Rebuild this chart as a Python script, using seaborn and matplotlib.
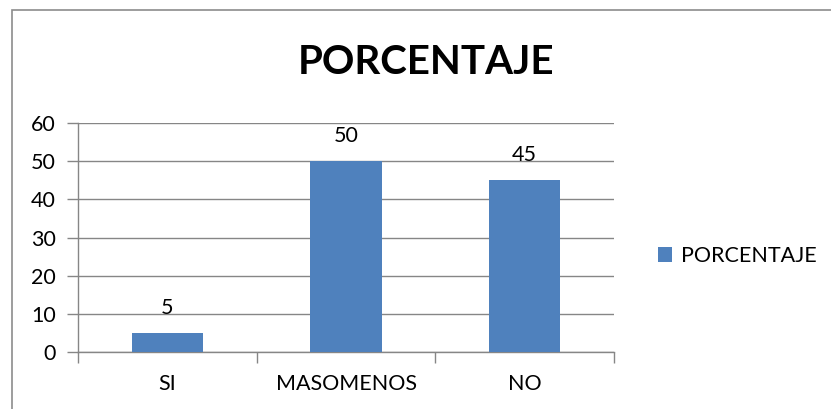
import matplotlib
matplotlib.use("Agg")
import matplotlib.pyplot as plt
import seaborn as sns
import pandas as pd
from matplotlib.patches import Rectangle

categories = ["SI", "MASOMENOS", "NO"]
values = [5, 50, 45]
series_name = "PORCENTAJE"
title = "PORCENTAJE"
yticks = [0, 10, 20, 30, 40, 50, 60]

sns.set_theme(style="white")
plt.rcParams["font.family"] = ["Lato", "DejaVu Sans"]
plt.rcParams["text.color"] = "black"
plt.rcParams["xtick.color"] = "black"
plt.rcParams["ytick.color"] = "black"

df = pd.DataFrame({"cat": categories, "val": values})

fig = plt.figure(figsize=(8.31, 4.09), dpi=100)
ax = fig.add_axes([78/831, 1-352/409, (614-78)/831, (352-123)/409])

sns.barplot(data=df, x="cat", y="val", color="#4F81BD", width=0.4,
            saturation=1, ax=ax, label=series_name, zorder=3, linewidth=0)

ax.set_ylim(0, 60)
ax.set_xlim(-0.5, len(categories) - 0.5)
ax.set_yticks(yticks)
ax.set_yticklabels([str(t) for t in yticks], fontsize=15.5)
ax.set_xticks(range(len(categories)))
ax.set_xticklabels(categories, fontsize=15.5)
ax.set_xlabel("")
ax.set_ylabel("")
ax.yaxis.grid(True, color="#868686", linewidth=1)
ax.set_axisbelow(True)
for s in ["top", "right"]:
    ax.spines[s].set_visible(False)
for s in ["left", "bottom"]:
    ax.spines[s].set_color("#868686")
    ax.spines[s].set_linewidth(1)

ax.tick_params(axis="y", which="major", length=8, width=1, color="#868686",
               left=True, pad=8, labelcolor="black")
ax.tick_params(axis="x", which="major", length=0, pad=16, labelcolor="black")
ax.set_xticks([i - 0.5 for i in range(len(categories) + 1)], minor=True)
ax.tick_params(axis="x", which="minor", length=8, width=1, color="#868686", bottom=True)

for i, v in enumerate(values):
    ax.text(i, v + 3.9, str(v), ha="center", va="bottom", fontsize=15.5, color="black")

fig.suptitle(title, x=426/831, y=1-62/409, va="center", fontsize=29,
             fontweight="bold", color="black")

leg = ax.legend(loc="center left", bbox_to_anchor=(639/831, 1-256/409),
                bbox_transform=fig.transFigure, frameon=False, fontsize=15.5,
                handlelength=0.65, handleheight=0.65, handletextpad=0.4)

fig.patches.append(Rectangle((12/831, -0.1), 1.0, 1.1 - 10/409, transform=fig.transFigure,
                             fill=False, edgecolor="#8c8c8c", linewidth=1.2, figure=fig))

fig.savefig("out.png", dpi=100, facecolor="white")
